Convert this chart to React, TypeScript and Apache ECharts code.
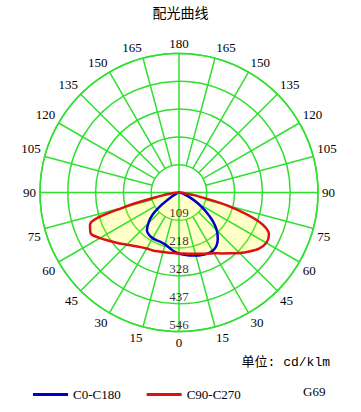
import React, { useEffect, useRef } from "react";
import * as echarts from "echarts";

// gamma angles (degrees from nadir)
const gamma = [0, 5, 10, 15, 20, 25, 30, 35, 40, 45, 50, 55, 60, 65, 70, 75, 80, 85, 90];
// C0-C180 plane (cd/klm)
const c0 = [240, 246, 251, 256, 261, 265, 264, 256, 237, 210, 172, 128, 88, 52, 27, 13, 6, 2, 0];
const c180 = [240, 232, 220, 211, 207, 207, 207, 204, 196, 170, 135, 80, 35, 15, 8, 5, 3, 1, 0];
// C90-C270 plane (cd/klm)
const c90 = [240, 239, 240, 242, 246, 250, 254, 262, 274, 290, 310, 332, 358, 382, 372, 225, 65, 15, 0];
const c270 = [240, 241, 244, 249, 256, 265, 276, 292, 312, 336, 360, 384, 396, 390, 335, 195, 60, 15, 0];

const ringValues = [109.2, 218.4, 327.6, 436.8, 546];
const spokeAngles = [0, 15, 30, 45, 60, 75, 90, 105, 120, 135, 150, 165, 180, 195, 210, 225, 240, 255, 270, 285, 300, 315, 330, 345];
const maxValue = 546;

const GREEN = "#2fe02f";
const BLUE = "#0000cc";
const RED = "#dd1111";
const SERIF = "'Liberation Serif', 'DejaVu Serif', serif";

function buildPath(left: number[], right: number[]) {
  const l = gamma.map((g, i) => [left[i], g]).reverse();
  const r = gamma.map((g, i) => [right[i], 360 - g]);
  return [...l, ...r];
}

// rich styles nudging labels next to the cross lines away from them
const labelRich: Record<string, any> = {
  n: {},
  l20: { padding: [0, 20, 0, 0] },
  r20: { padding: [0, 0, 0, 20] },
  l12: { padding: [0, 12, 0, 0] },
  r13: { padding: [0, 0, 0, 13] },
  up: { padding: [0, 0, 14, 0] },
  down: { padding: [14, 0, 0, 0] },
};
const labelStyleFor: Record<number, string> = {
  165: "l20",
  195: "r20",
  15: "l12",
  345: "r13",
  105: "up",
  255: "up",
  75: "down",
  285: "down",
};

export default function App() {
  const ref = useRef<HTMLDivElement>(null);
  useEffect(() => {
    if (!ref.current) return;
    const chart = echarts.init(ref.current, undefined, { renderer: "svg" });
    const blueData = buildPath(c180, c0);
    const redData = buildPath(c90, c270);

    const spokeSeries = spokeAngles.map((a) => ({
      type: "line",
      coordinateSystem: "polar",
      name: "spoke" + a,
      silent: true,
      symbol: "none",
      z: 3,
      data: [
        [a % 90 === 0 ? 0 : ringValues[0], a],
        [maxValue, a],
      ],
      lineStyle: { color: GREEN, width: 1.5 },
    }));

    chart.setOption({
      animation: false,
      title: {
        text: "配光曲线",
        left: "center",
        top: 0,
        textStyle: {
          fontSize: 14,
          fontWeight: "normal",
          color: "#000",
          fontFamily: "'Noto Sans CJK SC', sans-serif",
        },
      },
      polar: { center: [179, 192.5], radius: 139 },
      angleAxis: {
        type: "value",
        min: 0,
        max: 360,
        interval: 15,
        startAngle: 270,
        clockwise: true,
        axisLine: { show: true, lineStyle: { color: GREEN, width: 1.5 } },
        axisTick: { show: false },
        splitLine: { show: false },
        axisLabel: {
          margin: 4,
          color: "#000",
          fontSize: 13,
          fontFamily: SERIF,
          rich: labelRich,
          formatter: (v: number) => {
            const txt = String(v <= 180 ? v : 360 - v);
            const key = labelStyleFor[v] || "n";
            return "{" + key + "|" + txt + "}";
          },
        },
      },
      radiusAxis: {
        type: "value",
        min: 0,
        max: maxValue,
        interval: 109.2,
        axisLine: { show: false },
        axisTick: { show: false },
        axisLabel: { show: false },
        splitLine: { show: true, lineStyle: { color: GREEN, width: 1.5 } },
      },
      legend: {
        data: ["C0-C180", "C90-C270"],
        left: 28,
        top: 383,
        icon: "rect",
        itemWidth: 35,
        itemHeight: 3,
        itemGap: 26,
        textStyle: { fontSize: 13, color: "#000", fontFamily: SERIF },
      },
      graphic: [
        {
          type: "text",
          right: 31,
          top: 356,
          style: {
            text: "单位: cd/klm",
            fontSize: 13,
            fill: "#000",
            fontFamily: "'Liberation Mono', 'Noto Sans CJK SC', monospace",
          },
        },
        {
          type: "text",
          left: 303,
          top: 385,
          style: { text: "G69", fontSize: 13, fill: "#000", fontFamily: SERIF },
        },
      ],
      series: [
        {
          type: "line",
          name: "fill",
          coordinateSystem: "polar",
          silent: true,
          symbol: "none",
          smooth: 0.3,
          z: 2,
          data: redData,
          lineStyle: { width: 0, opacity: 0 },
          areaStyle: { color: "rgba(255,255,0,0.22)", opacity: 1 },
        },
        ...spokeSeries,
        {
          type: "line",
          name: "C0-C180",
          coordinateSystem: "polar",
          symbol: "none",
          smooth: 0.3,
          z: 4,
          color: BLUE,
          data: blueData,
          lineStyle: { color: BLUE, width: 2.5 },
        },
        {
          type: "line",
          name: "C90-C270",
          coordinateSystem: "polar",
          symbol: "none",
          smooth: 0.3,
          z: 4,
          color: RED,
          data: redData,
          lineStyle: { color: RED, width: 2.5 },
        },
        {
          type: "scatter",
          name: "ringLabels",
          coordinateSystem: "polar",
          silent: true,
          symbolSize: 0,
          z: 6,
          data: ringValues.map((r) => [r, 0]),
          label: {
            show: true,
            position: "top",
            distance: 1,
            color: "#000",
            textBorderWidth: 0,
            fontSize: 13,
            fontFamily: SERIF,
            formatter: (p: any) => String(Math.round(p.value[0])),
          },
        },
      ],
    });
    return () => chart.dispose();
  }, []);
  return (
    <div
      ref={ref}
      style={{ position: "absolute", left: 0, top: 0, width: 361, height: 412 }}
    />
  );
}
